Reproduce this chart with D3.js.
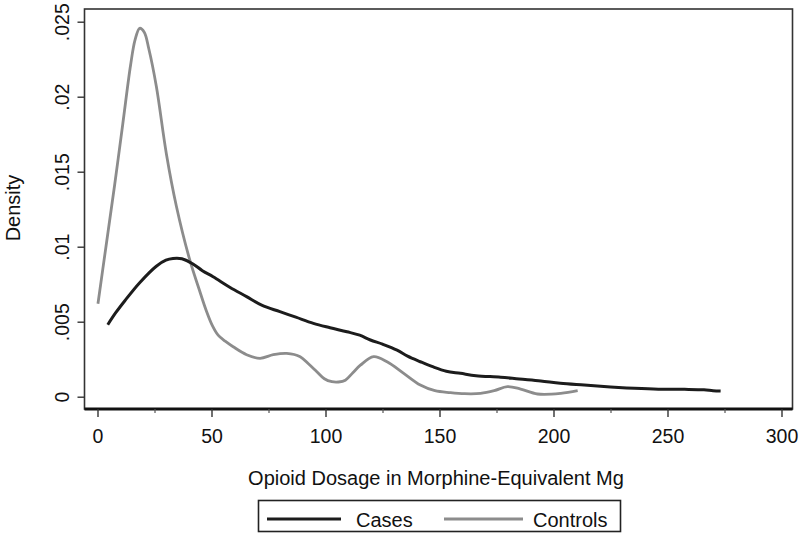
<!DOCTYPE html>
<html><head><meta charset="utf-8">
<script src="https://cdn.jsdelivr.net/npm/d3@7"></script>
<style>html,body{margin:0;padding:0;background:#fff;}svg{display:block;}text{font-family:"Liberation Sans",Arial,sans-serif;fill:#111;}</style>
</head><body>
<svg id="chart" width="800" height="540"></svg>
<script>
const xTicks = [0, 50, 100, 150, 200, 250, 300];
const xMinorTicks = [25, 75, 125, 175, 225, 275];
const yTicks = [0, 0.005, 0.01, 0.015, 0.02, 0.025];
const yTickLabels = ["0", ".005", ".01", ".015", ".02", ".025"];
const seriesNames = ["Cases", "Controls"];
const casesX = [4.5, 8, 12, 18.5, 25.8, 30, 33.1, 37, 41.9, 46, 50.7, 58, 65.4, 72, 80, 87, 94.7, 102, 109.4, 115, 119.7, 125, 131.4, 136, 141.6, 147, 153, 159.2, 166, 176.8, 185, 194.4, 203, 213.5, 225, 235.5, 246, 257.5, 266, 270, 273.3];
const casesY = [0.0048, 0.0056, 0.0064, 0.0076, 0.0087, 0.0091, 0.00922, 0.0092, 0.00885, 0.0084, 0.0080, 0.0073, 0.00667, 0.0061, 0.00567, 0.0053, 0.00489, 0.0046, 0.00433, 0.0041, 0.00378, 0.0035, 0.0031, 0.0027, 0.00233, 0.0020, 0.0017, 0.00156, 0.0014, 0.0013, 0.00118, 0.00105, 0.0009, 0.00078, 0.00065, 0.00056, 0.0005, 0.00049, 0.00046, 0.0004, 0.00038];
const controlsX = [0.2, 3.8, 7.5, 11.1, 14.5, 16.5, 18.5, 20.5, 22.5, 25.8, 30.2, 34.6, 40.5, 44.5, 47.8, 50.5, 52.9, 56, 59.5, 65.4, 71.3, 77.1, 83, 88.9, 92.5, 96.2, 99.5, 102.8, 105.7, 108.7, 112, 115.3, 121.1, 127, 134.3, 141.6, 148, 154.8, 161, 168, 174, 179.8, 185.6, 193, 203.2, 210.6];
const controlsY = [0.0062, 0.0101, 0.0141, 0.0182, 0.0221, 0.0238, 0.02456, 0.0243, 0.0232, 0.0207, 0.0162, 0.0127, 0.0091, 0.0072, 0.0057, 0.0047, 0.0041, 0.0037, 0.00333, 0.0028, 0.00256, 0.0028, 0.00289, 0.00267, 0.0022, 0.00167, 0.0012, 0.001, 0.00098, 0.0011, 0.0016, 0.0021, 0.00267, 0.00233, 0.00156, 0.00078, 0.0004, 0.00027, 0.0002, 0.00022, 0.0004, 0.00067, 0.00051, 0.00018, 0.00022, 0.0004];

const svg = d3.select("#chart");
const frame = {left: 84.5, right: 792.5, top: 9, bottom: 409};
const x = d3.scaleLinear().domain([0, 300]).range([97.5, 781.5]);
const y = d3.scaleLinear().domain([0, 0.025]).range([396.7, 21.7]);

// plot region frame
svg.append("rect").attr("x", frame.left).attr("y", frame.top)
  .attr("width", frame.right - frame.left).attr("height", frame.bottom - frame.top)
  .attr("fill", "none").attr("stroke", "#333").attr("stroke-width", 1.6);

// bottom axis
const xAxis = d3.axisBottom(x).tickValues(xTicks).tickSize(8).tickPadding(12).tickFormat(d3.format("d"));
const gx = svg.append("g").attr("transform", `translate(0,${frame.bottom})`).call(xAxis);
gx.select(".domain").attr("d", `M${frame.left},0H${frame.right}`).attr("stroke", "#111").attr("stroke-width", 3);
gx.selectAll(".tick line").attr("stroke", "#333").attr("stroke-width", 1.4);
gx.selectAll(".tick text").attr("font-size", 19.5).attr("fill", "#111").attr("font-family", '"Liberation Sans",Arial,sans-serif');
const xMinor = d3.axisBottom(x).tickValues(xMinorTicks).tickSize(4).tickFormat("");
const gxm = svg.append("g").attr("transform", `translate(0,${frame.bottom})`).call(xMinor);
gxm.select(".domain").remove();
gxm.selectAll(".tick line").attr("stroke", "#555").attr("stroke-width", 1.2);

// left axis
const yAxis = d3.axisLeft(y).tickValues(yTicks).tickSize(7).tickPadding(0).tickFormat((d, i) => yTickLabels[i]);
const gy = svg.append("g").attr("transform", `translate(${frame.left},0)`).call(yAxis);
gy.select(".domain").remove();
gy.selectAll(".tick line").attr("stroke", "#333").attr("stroke-width", 1.4);
gy.selectAll(".tick text")
  .attr("font-size", 19.5).attr("fill", "#111").attr("font-family", '"Liberation Sans",Arial,sans-serif')
  .attr("text-anchor", "middle").attr("x", null).attr("dy", null)
  .attr("transform", "translate(-23,0) rotate(-90)")
  .attr("dominant-baseline", "central");

// axis titles
svg.append("text").attr("x", 436).attr("y", 485).attr("text-anchor", "middle")
  .attr("font-size", 20).text("Opioid Dosage in Morphine-Equivalent Mg");
svg.append("text").attr("transform", "translate(20,208) rotate(-90)").attr("text-anchor", "middle")
  .attr("font-size", 20).text("Density");

// lines
const line = d3.line().x(d => x(d[0])).y(d => y(d[1])).curve(d3.curveCatmullRom.alpha(0.5));
const casesData = casesX.map((v, i) => [v, casesY[i]]);
const controlsData = controlsX.map((v, i) => [v, controlsY[i]]);
const colors = {Cases: "#1c1c1c", Controls: "#8c8c8c"};
svg.append("path").datum(controlsData).attr("d", line).attr("fill", "none")
  .attr("stroke", colors.Controls).attr("stroke-width", 2.8).attr("stroke-linejoin", "round");
svg.append("path").datum(casesData).attr("d", line).attr("fill", "none")
  .attr("stroke", colors.Cases).attr("stroke-width", 3).attr("stroke-linejoin", "round");

// legend
const lg = svg.append("g");
lg.append("rect").attr("x", 258.5).attr("y", 500.5).attr("width", 362).attr("height", 31)
  .attr("fill", "#fff").attr("stroke", "#222").attr("stroke-width", 1.6);
const legendItems = [
  {name: seriesNames[0], x1: 267, x2: 341, tx: 356},
  {name: seriesNames[1], x1: 444, x2: 523, tx: 533}
];
legendItems.forEach(it => {
  lg.append("line").attr("x1", it.x1).attr("x2", it.x2).attr("y1", 519).attr("y2", 519)
    .attr("stroke", colors[it.name]).attr("stroke-width", 3);
  lg.append("text").attr("x", it.tx).attr("y", 526.5).attr("font-size", 20).text(it.name);
});
</script>
</body></html>
